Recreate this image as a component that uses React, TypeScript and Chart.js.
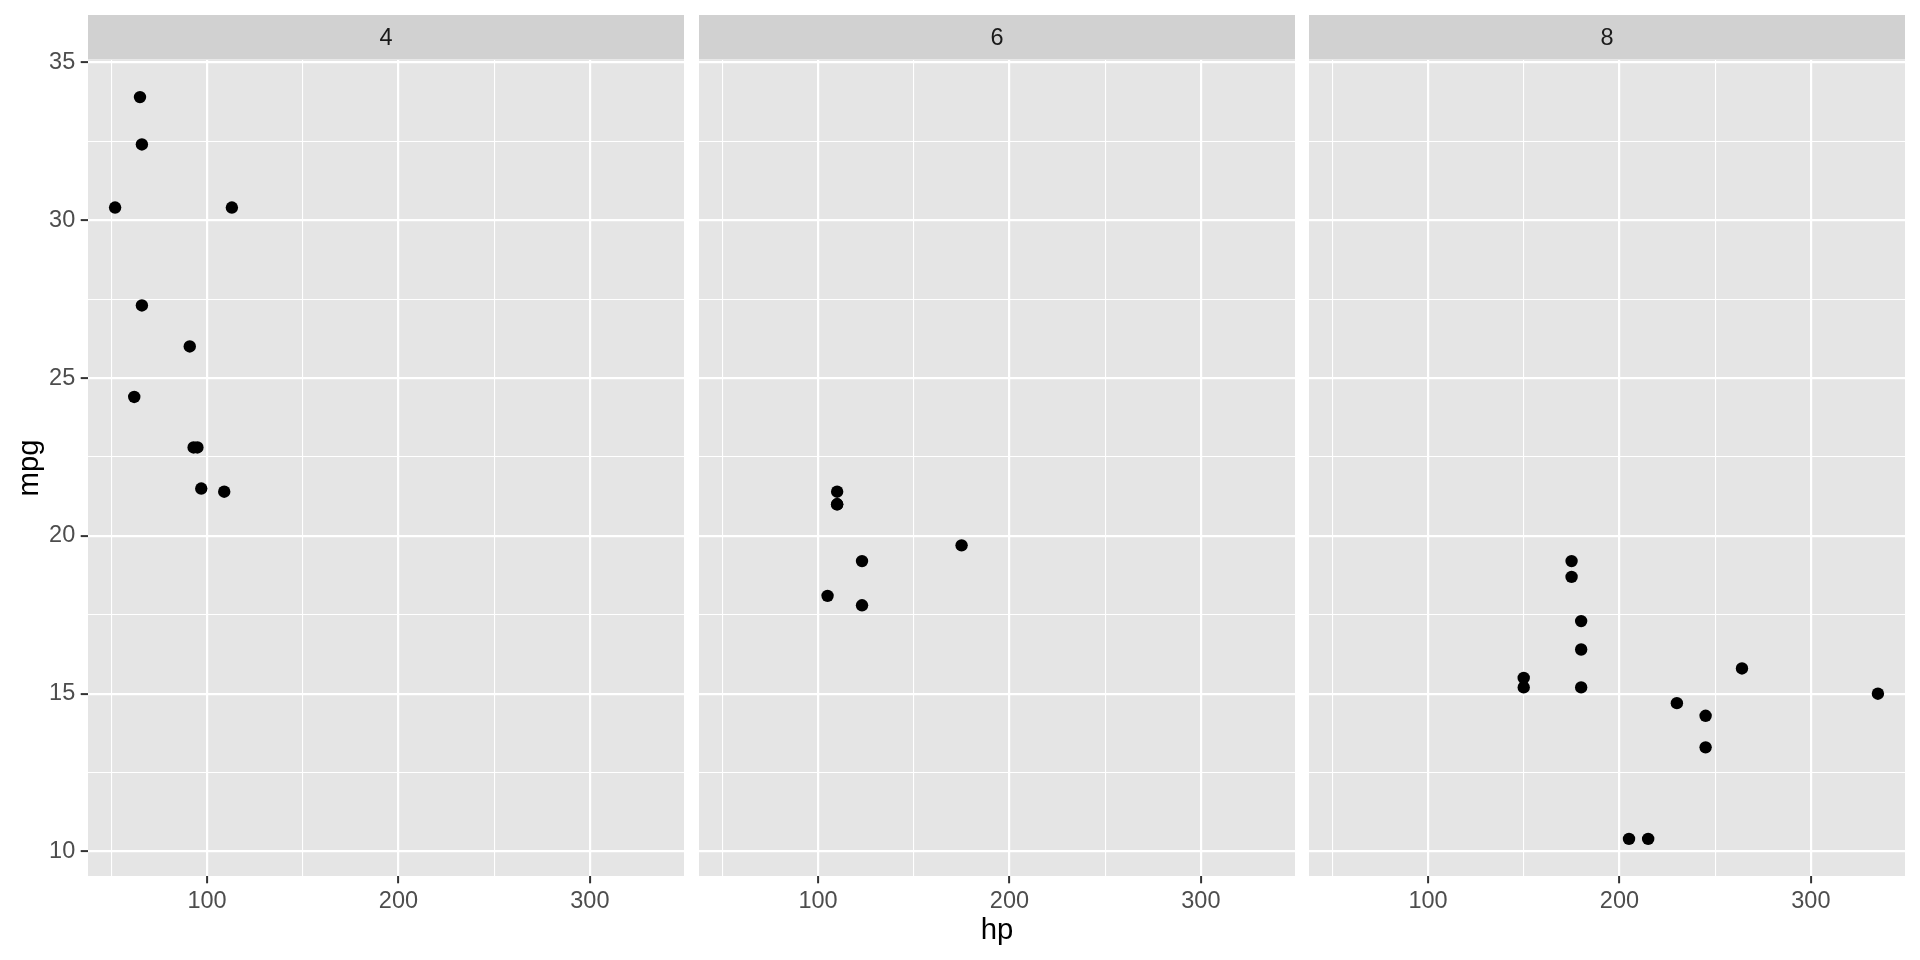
import React, { useEffect, useRef } from "react";
import { Chart, registerables } from "chart.js";

Chart.register(...registerables);

// ---- data (mtcars: hp vs mpg, faceted by cyl) ----
const facetLabels = ["4", "6", "8"];
const cyl4Hp = [93, 62, 95, 66, 52, 65, 97, 66, 91, 113, 109];
const cyl4Mpg = [22.8, 24.4, 22.8, 32.4, 30.4, 33.9, 21.5, 27.3, 26.0, 30.4, 21.4];
const cyl6Hp = [110, 110, 110, 105, 123, 123, 175];
const cyl6Mpg = [21.0, 21.0, 21.4, 18.1, 19.2, 17.8, 19.7];
const cyl8Hp = [175, 245, 180, 180, 180, 205, 215, 230, 150, 150, 245, 175, 264, 335];
const cyl8Mpg = [18.7, 14.3, 16.4, 17.3, 15.2, 10.4, 10.4, 14.7, 15.5, 15.2, 13.3, 19.2, 15.8, 15.0];

const xMajorTicks = [100, 200, 300];
const xMinorTicks = [50, 150, 250];
const yMajorTicks = [10, 15, 20, 25, 30, 35];
const yMinorTicks = [12.5, 17.5, 22.5, 27.5, 32.5];
const xLimits = [37.85, 349.15];
const yLimits = [9.225, 35.075];
const xTitle = "hp";
const yTitle = "mpg";

const FONT = "'Liberation Sans', Arial, Helvetica, sans-serif";
const PANEL_BG = "#E5E5E5";
const STRIP_BG = "#D1D1D1";

type Panel = { left: number; width: number; hp: number[]; mpg: number[]; label: string; showY: boolean; showXTitle: boolean };

const panels: Panel[] = [
  { left: 0, width: 684, hp: cyl4Hp, mpg: cyl4Mpg, label: facetLabels[0], showY: true, showXTitle: false },
  { left: 699, width: 596, hp: cyl6Hp, mpg: cyl6Mpg, label: facetLabels[1], showY: false, showXTitle: true },
  { left: 1309, width: 596, hp: cyl8Hp, mpg: cyl8Mpg, label: facetLabels[2], showY: false, showXTitle: false },
];

const isMajorX = (v: number) => xMajorTicks.includes(v);
const isMajorY = (v: number) => yMajorTicks.includes(v);

function PanelChart({ p }: { p: Panel }) {
  const ref = useRef<HTMLCanvasElement>(null);
  useEffect(() => {
    const canvas = ref.current!;
    const stripPlugin = {
      id: "strip",
      beforeDraw(chart: any) {
        const { ctx, chartArea } = chart;
        ctx.save();
        ctx.fillStyle = PANEL_BG;
        ctx.fillRect(chartArea.left, chartArea.top, chartArea.right - chartArea.left, chartArea.bottom - chartArea.top);
        ctx.fillStyle = STRIP_BG;
        const sTop = 15;
        const sBottom = chartArea.top - 0.5;
        ctx.fillRect(chartArea.left, sTop, chartArea.right - chartArea.left, sBottom - sTop);
        ctx.fillStyle = "#1A1A1A";
        ctx.font = `23.5px ${FONT}`;
        ctx.textAlign = "center";
        ctx.textBaseline = "middle";
        ctx.fillText(p.label, (chartArea.left + chartArea.right) / 2, (sTop + sBottom) / 2 + 1);
        ctx.restore();
      },
    };
    const xTicks = [...xMinorTicks, ...xMajorTicks].sort((a, b) => a - b);
    const yTicks = [...yMinorTicks, ...yMajorTicks].sort((a, b) => a - b);
    const chart = new Chart(canvas, {
      type: "scatter",
      data: {
        datasets: [
          {
            data: p.hp.map((h, i) => ({ x: h, y: p.mpg[i] })),
            backgroundColor: "#000000",
            borderWidth: 0,
            pointRadius: 6.2,
            pointHoverRadius: 6.2,
          },
        ],
      },
      options: {
        animation: false,
        responsive: false,
        devicePixelRatio: 1,
        layout: { autoPadding: false, padding: { top: 60, left: 0, right: 0, bottom: 0 } },
        plugins: { legend: { display: false }, tooltip: { enabled: false } },
        scales: {
          x: {
            type: "linear",
            min: xLimits[0],
            max: xLimits[1],
            afterBuildTicks: (s: any) => {
              s.ticks = xTicks.map((v) => ({ value: v }));
            },
            afterFit: (s: any) => {
              s.height = 84;
              s.paddingLeft = 0;
              s.paddingRight = 0;
            },
            border: { display: false },
            grid: {
              color: "#FFFFFF",
              lineWidth: (c: any) => (c.tick && isMajorX(c.tick.value) ? 2.2 : 1.1),
              drawTicks: true,
              tickLength: 7.3,
              tickWidth: 2,
              tickColor: (c: any) => (c.tick && isMajorX(c.tick.value) ? "#333333" : "rgba(0,0,0,0)"),
            },
            ticks: {
              autoSkip: false,
              maxRotation: 0,
              padding: 4,
              color: "#4D4D4D",
              font: { family: FONT, size: 23.5 },
              callback: (v: any) => (isMajorX(Number(v)) ? String(v) : ""),
            },
            title: {
              display: p.showXTitle,
              text: xTitle,
              color: "#000000",
              font: { family: FONT, size: 29.3 },
              padding: { top: 0, bottom: 12 },
            },
          },
          y: {
            type: "linear",
            min: yLimits[0],
            max: yLimits[1],
            afterBuildTicks: (s: any) => {
              s.ticks = yTicks.map((v) => ({ value: v }));
            },
            afterFit: (s: any) => {
              s.width = p.showY ? 88 : 0;
              s.paddingTop = 0;
              s.paddingBottom = 0;
            },
            border: { display: false },
            grid: {
              color: "#FFFFFF",
              lineWidth: (c: any) => (c.tick && isMajorY(c.tick.value) ? 2.2 : 1.1),
              drawTicks: p.showY,
              tickLength: 7.3,
              tickWidth: 2,
              tickColor: (c: any) => (c.tick && isMajorY(c.tick.value) ? "#333333" : "rgba(0,0,0,0)"),
            },
            ticks: {
              display: p.showY,
              autoSkip: false,
              padding: 5.5,
              color: "#4D4D4D",
              font: { family: FONT, size: 23.5 },
              callback: (v: any) => (isMajorY(Number(v)) ? String(v) : ""),
            },
            title: {
              display: p.showY,
              text: yTitle,
              color: "#000000",
              font: { family: FONT, size: 29.3 },
              padding: { top: 12, bottom: 0 },
            },
          },
        },
      },
      plugins: [stripPlugin],
    } as any);
    return () => chart.destroy();
  }, [p]);
  return (
    <canvas
      ref={ref}
      width={p.width}
      height={960}
      style={{ position: "absolute", left: p.left, top: 0, width: p.width, height: 960 }}
    />
  );
}

export default function App() {
  return (
    <div style={{ position: "absolute", left: 0, top: 0, width: 1920, height: 960, background: "#FFFFFF", overflow: "hidden" }}>
      {panels.map((p) => (
        <PanelChart key={p.label} p={p} />
      ))}
    </div>
  );
}
